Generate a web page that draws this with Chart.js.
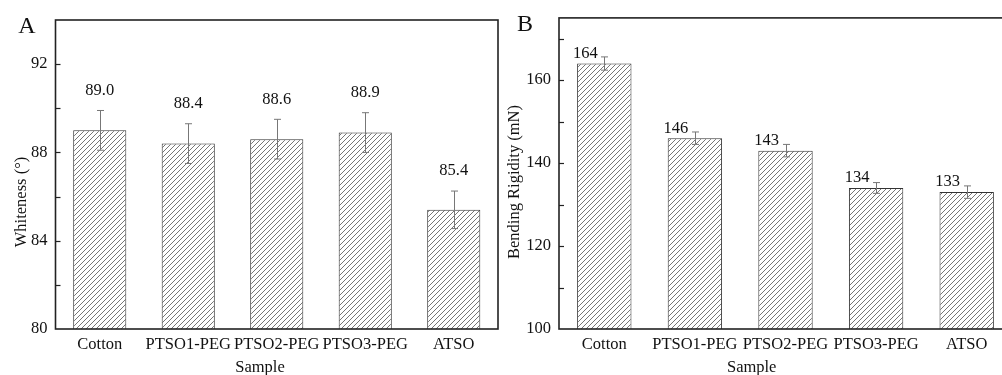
<!DOCTYPE html>
<html><head><meta charset="utf-8">
<script src="https://cdn.jsdelivr.net/npm/chart.js@4.4.1/dist/chart.umd.min.js"></script>
<style>
html,body{margin:0;padding:0;background:#fff;overflow:hidden;width:1002px;height:375px;}
#wrap{position:relative;width:1002px;height:375px;overflow:hidden;background:#fff;}
#ca{position:absolute;left:0;top:0;}
#cb{position:absolute;left:500px;top:0;}
</style></head><body>
<div id="wrap"><canvas id="ca" width="500" height="375"></canvas><canvas id="cb" width="520" height="375"></canvas></div>
<script>
// ---- data ----
const categories = ['Cotton', 'PTSO1-PEG', 'PTSO2-PEG', 'PTSO3-PEG', 'ATSO'];
const whiteness = [89.0, 88.4, 88.6, 88.9, 85.4];
const whitenessErr = [0.9, 0.9, 0.9, 0.9, 0.85];
const whitenessLabels = ['89.0', '88.4', '88.6', '88.9', '85.4'];
const rigidity = [164, 146, 143, 134, 133];
const rigidityErr = [1.6, 1.5, 1.5, 1.3, 1.5];
const rigidityLabels = ['164', '146', '143', '134', '133'];
const whitenessAxis = {min: 80, max: 94, step: 2, labelEvery: 4};
const rigidityAxis = {min: 100, max: 175, step: 10, labelEvery: 20};

const FONT = 'Liberation Serif, Times New Roman, serif';
const TXT = '#111';

function makeHatch(ctx) {
  const c = document.createElement('canvas');
  c.width = 5; c.height = 5;
  const g = c.getContext('2d');
  g.fillStyle = '#fff'; g.fillRect(0, 0, 5, 5);
  g.strokeStyle = '#666'; g.lineWidth = 0.9;
  g.beginPath();
  g.moveTo(-1, 6); g.lineTo(6, -1);
  g.moveTo(-1, 1); g.lineTo(1, -1);
  g.moveTo(4, 6); g.lineTo(6, 4);
  g.stroke();
  return ctx.createPattern(c, 'repeat');
}

const decor = {
  id: 'decor',
  afterDatasetsDraw(chart, args, o) {
    const ctx = chart.ctx, xs = chart.scales.x, ys = chart.scales.y;
    const data = chart.data.datasets[0].data;
    ctx.save();
    // error bars
    ctx.strokeStyle = '#777'; ctx.lineWidth = 1;
    data.forEach((v, i) => {
      const x = Math.round(xs.getPixelForValue(i)) + 0.5;
      const yt = ys.getPixelForValue(v + o.err[i]);
      const yb = ys.getPixelForValue(v - o.err[i]);
      ctx.beginPath();
      ctx.moveTo(x, yt); ctx.lineTo(x, yb);
      ctx.moveTo(x - 3.5, yt); ctx.lineTo(x + 3.5, yt);
      ctx.moveTo(x - 3.5, yb); ctx.lineTo(x + 3.5, yb);
      ctx.stroke();
    });
    // value labels
    ctx.fillStyle = TXT; ctx.font = '16.5px ' + FONT;
    ctx.textAlign = 'center'; ctx.textBaseline = 'middle';
    data.forEach((v, i) => {
      const x = xs.getPixelForValue(i);
      if (o.labelMode === 'above') {
        ctx.fillText(o.labels[i], x, ys.getPixelForValue(v + o.err[i]) - 20);
      } else {
        ctx.fillText(o.labels[i], x - 19, ys.getPixelForValue(v) - 10);
      }
    });
    ctx.restore();
  },
  afterDraw(chart, args, o) {
    const ctx = chart.ctx, a = chart.chartArea, ys = chart.scales.y;
    ctx.save();
    // inward ticks
    ctx.strokeStyle = '#222'; ctx.lineWidth = 1.2;
    ys.ticks.forEach(t => {
      if (t.value <= ys.min || t.value >= ys.max) return;
      const y = Math.round(ys.getPixelForValue(t.value)) + 0.5;
      ctx.beginPath(); ctx.moveTo(a.left, y); ctx.lineTo(a.left + 5, y); ctx.stroke();
    });
    // frame
    ctx.strokeStyle = '#222'; ctx.lineWidth = 1.6;
    ctx.strokeRect(a.left, a.top, a.right - a.left, a.bottom - a.top);
    // titles
    ctx.fillStyle = TXT; ctx.font = '16.5px ' + FONT;
    ctx.textAlign = 'center'; ctx.textBaseline = 'middle';
    ctx.fillText(o.xTitle, o.xTitlePos[0], o.xTitlePos[1]);
    ctx.save();
    ctx.translate(o.yTitlePos[0], o.yTitlePos[1]);
    ctx.rotate(-Math.PI / 2);
    ctx.fillText(o.yTitle, 0, 0);
    ctx.restore();
    ctx.font = '24px ' + FONT;
    ctx.fillText(o.letter, o.letterPos[0], o.letterPos[1]);
    ctx.restore();
  }
};

function build(canvasId, values, axis, cfg) {
  const canvas = document.getElementById(canvasId);
  const ctx = canvas.getContext('2d');
  return new Chart(ctx, {
    type: 'bar',
    data: {
      labels: categories,
      datasets: [{
        data: values,
        backgroundColor: makeHatch(ctx),
        borderColor: '#333',
        borderWidth: 1,
        categoryPercentage: 1,
        barPercentage: 0.6
      }]
    },
    options: {
      responsive: false,
      animation: false,
      events: [],
      layout: {padding: {left: 0, right: cfg.padRight, top: cfg.padTop, bottom: 0}},
      plugins: {
        legend: {display: false},
        tooltip: {enabled: false},
        decor: cfg.decor
      },
      scales: {
        x: {
          grid: {display: false, drawTicks: false},
          border: {display: false},
          ticks: {color: TXT, font: {family: FONT, size: 16.5}, padding: 6, maxRotation: 0, autoSkip: false},
          afterFit(s) { s.height = 46; }
        },
        y: {
          min: axis.min, max: axis.max,
          grid: {display: false, drawTicks: false},
          border: {display: false},
          ticks: {
            stepSize: axis.step,
            color: TXT, font: {family: FONT, size: 16.5}, padding: 8,
            callback: v => (v % axis.labelEvery === 0 ? String(v) : '')
          },
          afterFit(s) { s.width = cfg.yWidth; }
        }
      }
    },
    plugins: [decor]
  });
}

build('ca', whiteness, whitenessAxis, {
  padRight: 2, padTop: 20, yWidth: 55.5,
  decor: {err: whitenessErr, labels: whitenessLabels, labelMode: 'above',
    xTitle: 'Sample', xTitlePos: [260, 368],
    yTitle: 'Whiteness (°)', yTitlePos: [22, 202],
    letter: 'A', letterPos: [27, 27]}
});
build('cb', rigidity, rigidityAxis, {
  padRight: 8, padTop: 12.3, yWidth: 59,
  decor: {err: rigidityErr, labels: rigidityLabels, labelMode: 'left',
    xTitle: 'Sample', xTitlePos: [251.7, 368],
    yTitle: 'Bending Rigidity (mN)', yTitlePos: [15, 182],
    letter: 'B', letterPos: [25, 25]}
});
</script>
</body></html>
